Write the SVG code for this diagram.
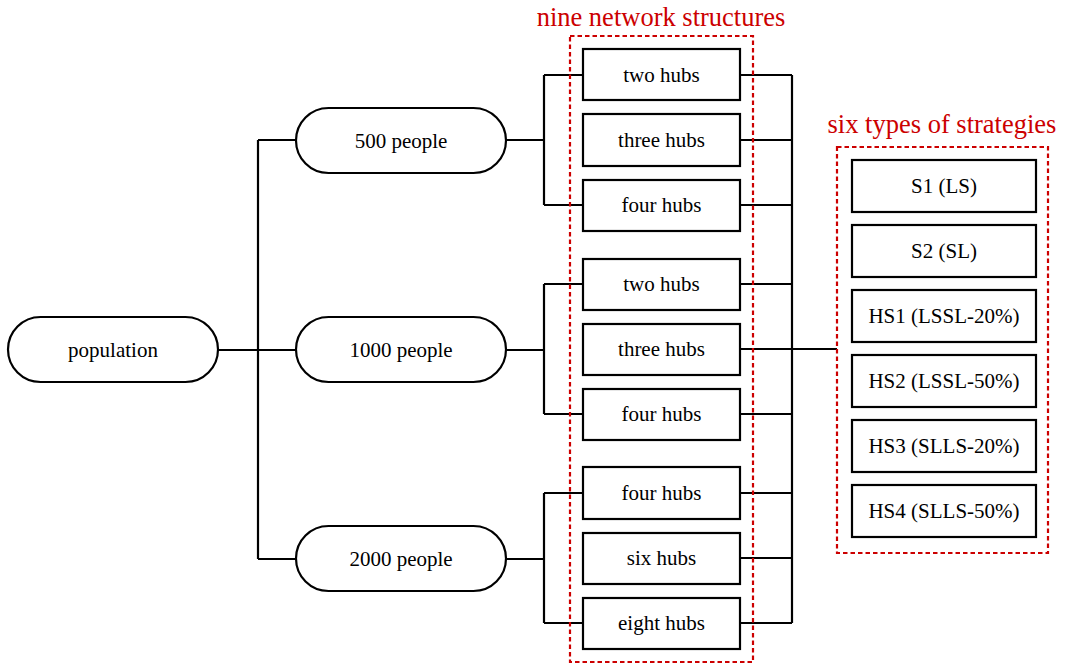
<svg xmlns="http://www.w3.org/2000/svg" width="1066" height="666" viewBox="0 0 1066 666">
<style>
.n{fill:#fff;stroke:#000;stroke-width:2.2}
.t{font-family:"Liberation Serif","Times New Roman",serif;font-size:21px;fill:#000;text-anchor:middle;dominant-baseline:central}
.c{fill:none;stroke:#000;stroke-width:2.2}
.g{fill:none;stroke:#cc0000;stroke-width:2.2;stroke-dasharray:4.5 3}
.r{font-family:"Liberation Serif","Times New Roman",serif;font-size:26.5px;fill:#cc0000;text-anchor:middle}
</style>
<rect width="1066" height="666" fill="#fff"/>
<g id="connectors">
<path class="c" d="M218 350H296M258 140V559M258 140H296M258 559H296"/>
<path class="c" d="M506 140H544M544 75V205M544 75H583M544 205H583"/>
<path class="c" d="M506 350H544M544 284V414M544 284H583M544 414H583"/>
<path class="c" d="M506 559H544M544 493V623M544 493H583M544 623H583"/>
<path class="c" d="M740 75H792M740 140H792M740 205H792M740 284H792M740 349H792M740 414H792M740 493H792M740 558H792M740 623H792M792 75V623M792 349H837"/>
</g>
<g id="group-nine">
<rect class="g" x="570" y="36" width="183" height="626"/>
<text class="r" x="661" y="26">nine network structures</text>
</g>
<g id="group-six">
<rect class="g" x="837" y="147" width="211" height="406"/>
<text class="r" x="942" y="133">six types of strategies</text>
</g>
<g id="population"><rect class="n" x="8" y="317" width="210" height="65" rx="32.5"/><text class="t" x="113" y="350">population</text></g>
<g id="p500"><rect class="n" x="296" y="108" width="210" height="65" rx="32.5"/><text class="t" x="401" y="141">500 people</text></g>
<g id="p1000"><rect class="n" x="296" y="317" width="210" height="65" rx="32.5"/><text class="t" x="401" y="350">1000 people</text></g>
<g id="p2000"><rect class="n" x="296" y="526" width="210" height="65" rx="32.5"/><text class="t" x="401" y="559">2000 people</text></g>
<g id="h1"><rect class="n" x="583" y="49" width="157" height="51"/><text class="t" x="661.5" y="75">two hubs</text></g>
<g id="h2"><rect class="n" x="583" y="114" width="157" height="52"/><text class="t" x="661.5" y="140">three hubs</text></g>
<g id="h3"><rect class="n" x="583" y="180" width="157" height="51"/><text class="t" x="661.5" y="205">four hubs</text></g>
<g id="h4"><rect class="n" x="583" y="259" width="157" height="51"/><text class="t" x="661.5" y="284">two hubs</text></g>
<g id="h5"><rect class="n" x="583" y="324" width="157" height="51"/><text class="t" x="661.5" y="349">three hubs</text></g>
<g id="h6"><rect class="n" x="583" y="389" width="157" height="51"/><text class="t" x="661.5" y="414">four hubs</text></g>
<g id="h7"><rect class="n" x="583" y="467" width="157" height="52"/><text class="t" x="661.5" y="493">four hubs</text></g>
<g id="h8"><rect class="n" x="583" y="533" width="157" height="51"/><text class="t" x="661.5" y="558">six hubs</text></g>
<g id="h9"><rect class="n" x="583" y="598" width="157" height="51"/><text class="t" x="661.5" y="623">eight hubs</text></g>
<g id="s1"><rect class="n" x="852" y="160" width="184" height="52"/><text class="t" x="944" y="186">S1 (LS)</text></g>
<g id="s2"><rect class="n" x="852" y="225" width="184" height="52"/><text class="t" x="944" y="251">S2 (SL)</text></g>
<g id="s3"><rect class="n" x="852" y="290" width="184" height="52"/><text class="t" x="944" y="316">HS1 (LSSL-20%)</text></g>
<g id="s4"><rect class="n" x="852" y="355" width="184" height="52"/><text class="t" x="944" y="381">HS2 (LSSL-50%)</text></g>
<g id="s5"><rect class="n" x="852" y="420" width="184" height="52"/><text class="t" x="944" y="446">HS3 (SLLS-20%)</text></g>
<g id="s6"><rect class="n" x="852" y="485" width="184" height="52"/><text class="t" x="944" y="511">HS4 (SLLS-50%)</text></g>
</svg>
